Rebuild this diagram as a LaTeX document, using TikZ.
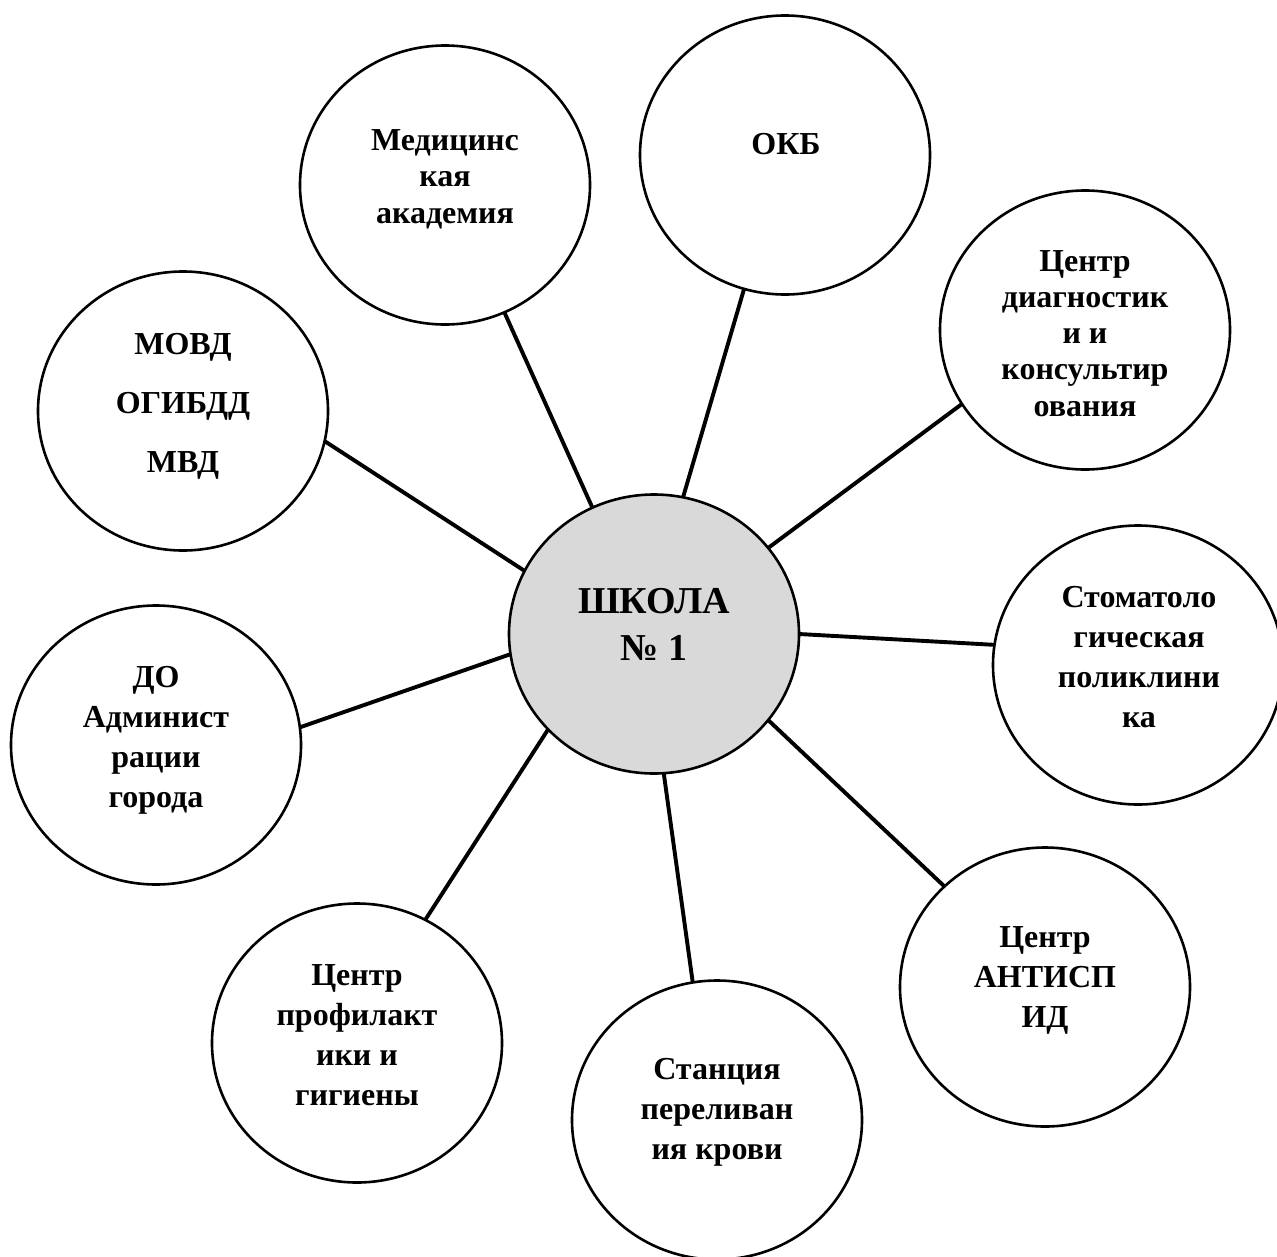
\documentclass[tikz,border=0pt]{standalone}
\usepackage{fontspec}
\setmainfont{Liberation Serif}
\usetikzlibrary{shapes.geometric}
\definecolor{hubgray}{HTML}{D9D9D9}
\begin{document}
\begin{tikzpicture}[x=1pt,y=-1pt,
  bubble/.style={draw, line width=2.6pt, ellipse, minimum width=290pt, minimum height=279pt, inner sep=0pt, outer sep=0pt, fill=white},
  hub/.style={bubble, fill=hubgray},
  txt/.style={font=\bfseries\fontsize{32}{#1}\selectfont, align=center, anchor=base, inner sep=0pt},
  txt/.default=40,
  link/.style={line width=3.9pt}
]
\useasboundingbox (0,0) rectangle (1277,1256);
% circles
\node[hub]    (hub)    at (654,634) {};
\node[bubble] (med)    at (445,185) {};
\node[bubble] (okb)    at (785,155) {};
\node[bubble] (diag)   at (1085,330) {};
\node[bubble] (stom)   at (1138,665) {};
\node[bubble] (aids)   at (1045,987) {};
\node[bubble] (blood)  at (717,1120) {};
\node[bubble] (prof)   at (357,1043) {};
\node[bubble] (admin)  at (156,745) {};
\node[bubble] (police) at (183,411) {};
% connectors (hub border angle / satellite border angle)
\foreach \n/\a/\b in {med/116.4/-65.7, okb/78.6/253.2, diag/37.3/211.4,
                      stom/0.8/172.9, aids/-37.6/135.5, blood/-86.8/100.8,
                      prof/222.8/61.5, admin/188.6/7.4, police/154.3/-12}
  \draw[link] (hub.\a) -- (\n.\b);
% texts (anchored at the baseline of the last line)
\node[txt, font=\bfseries\fontsize{38}{47}\selectfont] (t-hub) at (654,660) {ШКОЛА\\№ 1};
\node[txt=36.5] (t-med) at (445,223) {Медицинс\\кая\\академия};
\node[txt] (t-okb) at (786,154) {ОКБ};
\node[txt=36.25] (t-diag) at (1085,416) {Центр\\диагностик\\и и\\консультир\\ования};
\node[txt=39.7] (t-stom) at (1139,727) {Стоматоло\\гическая\\поликлини\\ка};
\node[txt] (t-aids) at (1045,1027) {Центр\\АНТИСП\\ИД};
\node[txt] (t-blood) at (717,1159) {Станция\\переливан\\ия крови};
\node[txt] (t-prof) at (357,1105) {Центр\\профилакт\\ики и\\гигиены};
\node[txt=39.7] (t-admin) at (156,807) {ДО\\Админист\\рации\\города};
\node[txt=59] (t-police) at (183,472) {МОВД\\ОГИБДД\\МВД};
\end{tikzpicture}
\end{document}
